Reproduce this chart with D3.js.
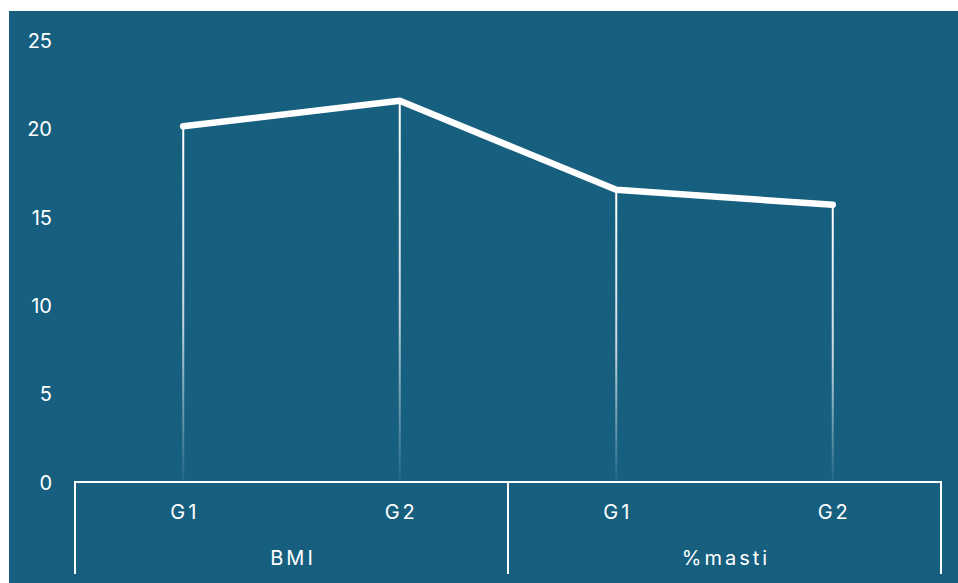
<!DOCTYPE html>
<html><head><meta charset="utf-8">
<script src="https://cdn.jsdelivr.net/npm/d3@7"></script>
<style>
html,body{margin:0;padding:0;background:#fff;}
svg{display:block;}
</style></head>
<body>
<svg id="c" width="958" height="583"></svg>
<script>
const groups = ["BMI", "%masti"];
const subLabels = ["G1", "G2"];
const values = [20.15, 21.6, 16.55, 15.7];
const yTicks = [0, 5, 10, 15, 20, 25];

const W = 958, H = 583;
const svg = d3.select("#c");
const left = 75, right = 941, y0 = 482, yTop = 40.7;
const bg = "#165f7f";

svg.append("rect").attr("x", 9).attr("y", 11).attr("width", W - 9).attr("height", H - 11).attr("fill", bg);

const cats = [];
groups.forEach(g => subLabels.forEach(s => cats.push(g + "|" + s)));

const x = d3.scaleBand().domain(cats).range([left, right]);
const y = d3.scaleLinear().domain([0, 25]).range([y0, yTop]);

const defs = svg.append("defs");
const grad = defs.append("linearGradient").attr("id", "fade")
  .attr("x1", 0).attr("y1", 0).attr("x2", 0).attr("y2", 1);
grad.append("stop").attr("offset", "0%").attr("stop-color", "#ffffff").attr("stop-opacity", 1);
grad.append("stop").attr("offset", "55%").attr("stop-color", "#ffffff").attr("stop-opacity", 0.75);
grad.append("stop").attr("offset", "100%").attr("stop-color", "#ffffff").attr("stop-opacity", 0.05);

const font = "Inter, 'Noto Sans', sans-serif";

// y tick labels
const yAxis = d3.axisLeft(y).tickValues(yTicks).tickSize(0).tickPadding(0);
const ya = svg.append("g").attr("transform", "translate(52,0)").call(yAxis);
ya.select(".domain").remove();
ya.selectAll("text").attr("fill", "#ffffff").attr("font-family", font)
  .attr("font-size", 20).attr("dy", "0.35em");

// drop lines
svg.append("g").selectAll("rect").data(values).join("rect")
  .attr("x", (d, i) => x(cats[i]) + x.bandwidth() / 2 - 1)
  .attr("y", d => y(d))
  .attr("width", 2)
  .attr("height", d => y0 - y(d))
  .attr("fill", "url(#fade)");

// main line
const line = d3.line().x((d, i) => x(cats[i]) + x.bandwidth() / 2).y(d => y(d));
svg.append("path").datum(values).attr("d", line)
  .attr("fill", "none").attr("stroke", "#ffffff").attr("stroke-width", 6.5)
  .attr("stroke-linecap", "round").attr("stroke-linejoin", "round");

// x axis line
svg.append("line").attr("x1", left).attr("x2", right).attr("y1", y0).attr("y2", y0)
  .attr("stroke", "#ffffff").attr("stroke-width", 2);

// group separators
const groupBounds = [left];
groups.forEach((g, gi) => groupBounds.push(x(g + "|" + subLabels[subLabels.length - 1]) + x.bandwidth()));
svg.append("g").selectAll("line").data(groupBounds).join("line")
  .attr("x1", d => d).attr("x2", d => d).attr("y1", y0 - 1).attr("y2", 574)
  .attr("stroke", "#ffffff").attr("stroke-width", 2);

// sub labels
svg.append("g").selectAll("text").data(cats).join("text")
  .attr("x", d => x(d) + x.bandwidth() / 2 + 1.5)
  .attr("y", 512).attr("dy", "0.35em")
  .attr("text-anchor", "middle").attr("fill", "#ffffff")
  .attr("font-family", font).attr("font-size", 20)
  .attr("letter-spacing", "3px")
  .text(d => d.split("|")[1]);

// group labels
svg.append("g").selectAll("text").data(groups).join("text")
  .attr("x", (g, i) => (groupBounds[i] + groupBounds[i + 1]) / 2 + 1.5)
  .attr("y", 558).attr("dy", "0.35em")
  .attr("text-anchor", "middle").attr("fill", "#ffffff")
  .attr("font-family", font).attr("font-size", 20)
  .attr("letter-spacing", "3px")
  .text(d => d);
</script>
</body></html>
